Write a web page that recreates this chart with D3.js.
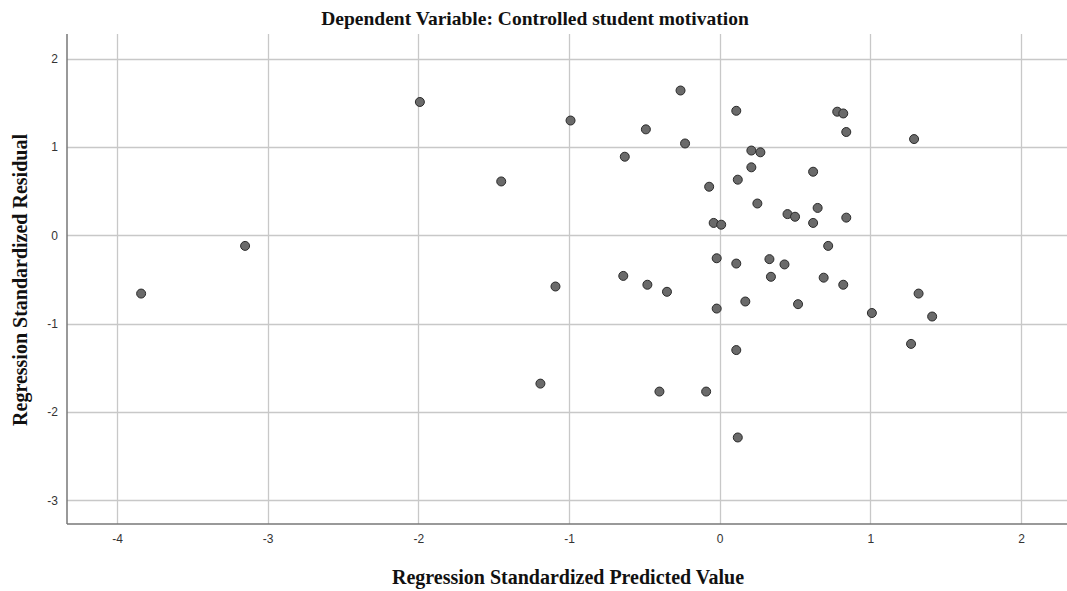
<!DOCTYPE html>
<html><head><meta charset="utf-8">
<script src="https://cdn.jsdelivr.net/npm/d3@7"></script>
<style>body{margin:0;background:#fff}svg{display:block}</style>
</head><body>
<script>
const title = "Dependent Variable: Controlled student motivation";
const xLabel = "Regression Standardized Predicted Value";
const yLabel = "Regression Standardized Residual";
const xTicks = [-4, -3, -2, -1, 0, 1, 2];
const yTicks = [-3, -2, -1, 0, 1, 2];
const predicted = [-3.84,-3.15,-1.99,-1.45,-0.99,-1.09,-1.19,-0.49,-0.63,-0.26,-0.23,-0.07,-0.04,0.01,0.11,0.21,0.27,0.21,0.12,0.25,0.78,0.82,0.84,1.29,0.45,0.50,0.62,0.65,0.62,0.84,-0.64,-0.48,-0.35,-0.02,0.11,0.33,0.43,0.34,0.69,0.82,0.72,-0.02,0.17,0.52,1.01,1.32,1.41,1.27,0.11,-0.40,-0.09,0.12];
const residual = [-0.66,-0.12,1.51,0.61,1.30,-0.58,-1.68,1.20,0.89,1.64,1.04,0.55,0.14,0.12,1.41,0.96,0.94,0.77,0.63,0.36,1.40,1.38,1.17,1.09,0.24,0.21,0.72,0.31,0.14,0.20,-0.46,-0.56,-0.64,-0.26,-0.32,-0.27,-0.33,-0.47,-0.48,-0.56,-0.12,-0.83,-0.75,-0.78,-0.88,-0.66,-0.92,-1.23,-1.30,-1.77,-1.77,-2.29];

const W = 1067, H = 591;
const L = 67, R = 1067, T = 34, B = 524;
const svg = d3.select("body").append("svg").attr("width", W).attr("height", H);

const x = d3.scaleLinear().domain([-4.332, 2.305]).range([L, R]);
const y = d3.scaleLinear().domain([-3.27, 2.28]).range([B, T]);

// grid
svg.append("g").selectAll("line").data(xTicks).join("line")
  .attr("x1", d => Math.round(x(d)) + 0.5).attr("x2", d => Math.round(x(d)) + 0.5)
  .attr("y1", T).attr("y2", B).attr("stroke", "#c8c8c8").attr("stroke-width", 1.3);
svg.append("g").selectAll("line").data(yTicks).join("line")
  .attr("y1", d => Math.round(y(d)) + 0.5).attr("y2", d => Math.round(y(d)) + 0.5)
  .attr("x1", L).attr("x2", R).attr("stroke", "#c8c8c8").attr("stroke-width", 1.3);

// axes
const fmt = d => String(d);
const xAxis = svg.append("g").attr("transform", `translate(0,${B})`)
  .call(d3.axisBottom(x).tickValues(xTicks).tickSize(0).tickPadding(10).tickFormat(fmt));
const yAxis = svg.append("g").attr("transform", `translate(${L},0)`)
  .call(d3.axisLeft(y).tickValues(yTicks).tickSize(0).tickPadding(9).tickFormat(fmt));
[xAxis, yAxis].forEach(g => {
  g.select(".domain").attr("stroke", "#777").attr("stroke-width", 1.5);
  g.selectAll("text").attr("font-family", "Liberation Sans, Arial, sans-serif")
    .attr("font-size", 12).attr("fill", "#333");
});
xAxis.select(".domain").attr("d", `M${L},0H${R}`);
yAxis.select(".domain").attr("d", `M0,${T}V${B}`);

// points
svg.append("g").selectAll("circle").data(predicted.map((p, i) => [p, residual[i]])).join("circle")
  .attr("cx", d => x(d[0])).attr("cy", d => y(d[1])).attr("r", 4.5)
  .attr("fill", "#6a6a6a").attr("stroke", "#2a2a2a").attr("stroke-width", 1);

// labels
const serif = "Liberation Serif, Times New Roman, serif";
svg.append("text").attr("x", 535).attr("y", 25).attr("text-anchor", "middle")
  .attr("font-family", serif).attr("font-weight", "bold").attr("font-size", 19.5).attr("fill", "#111").text(title);
svg.append("text").attr("x", 568).attr("y", 584).attr("text-anchor", "middle")
  .attr("font-family", serif).attr("font-weight", "bold").attr("font-size", 20).attr("fill", "#111").text(xLabel);
svg.append("text").attr("transform", `translate(27,280) rotate(-90)`).attr("text-anchor", "middle")
  .attr("font-family", serif).attr("font-weight", "bold").attr("font-size", 20).attr("fill", "#111").text(yLabel);
</script>
</body></html>
